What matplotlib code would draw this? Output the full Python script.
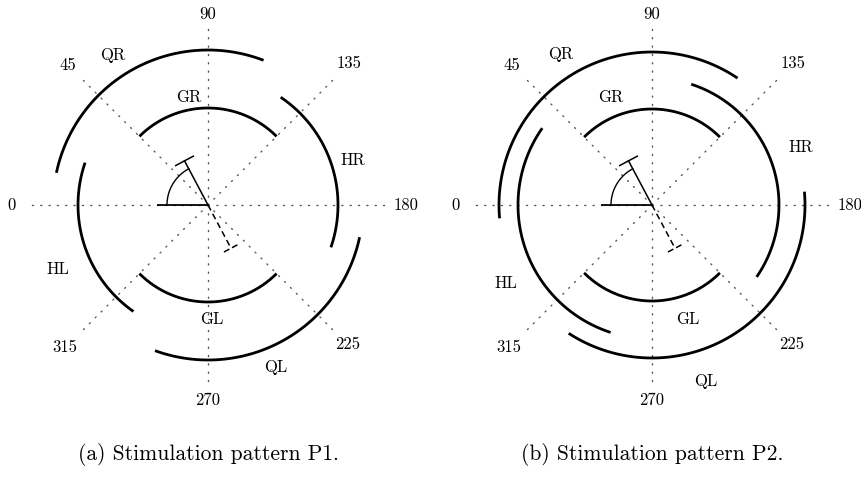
import numpy as np
import matplotlib
matplotlib.use("Agg")
import matplotlib.pyplot as plt

# ---- data ---------------------------------------------------------------
# Arc segments per stimulation pattern: (name, start angle, end angle, radius)
# Angles follow the diagram convention: 0 = left, 90 = up, 180 = right, 270 = down.
arc_names = ["GR", "GL", "HR", "HL", "QR", "QL"]
p1_start = [45, 225, 124, 305, 12, 192]
p1_end = [135, 315, 199, 379, 111, 290]
p1_radius = [97, 97, 130, 130, 155, 155]

p2_start = [45, 225, 108, 288, -5, 175]
p2_end = [135, 315, 214.5, 395, 124, 303]
p2_radius = [96, 96, 127, 134, 153, 153]

# Direction marker: bar angle and its length
marker_angle = 62
marker_length = 50

# Reference directions drawn as dotted spokes
spoke_angles = [0, 45, 90, 135, 180, 225, 270, 315]
spoke_labels = ["0", "45", "90", "135", "180", "225", "270", "315"]

captions = ["(a) Stimulation pattern P1.", "(b) Stimulation pattern P2."]

# ---- layout -------------------------------------------------------------
W, H = 861, 482
centers = [(208, 205), (652, 205)]
spoke_len = 178
spoke_label_r = [196, 198, 191, 200, 198, 197, 195, 202]
name_offsets = [
    {"QR": (-95, -150), "GR": (-19, -108), "HR": (145, -45),
     "HL": (-150, 64), "GL": (4, 114), "QL": (68, 162)},
    {"QR": (-91, -151), "GR": (-41, -108), "HR": (149, -58),
     "HL": (-146, 78), "GL": (36, 114), "QL": (54, 176)},
]
caption_y = 455

FONT = "cmr10"
plt.rcParams["font.family"] = FONT
LABEL_SIZE = 12
CAPTION_SIZE = 15.5


def polar(c, ang, r):
    """Diagram angle (deg) and radius to screen coordinates (y down)."""
    a = np.deg2rad(np.asarray(ang, dtype=float))
    return c[0] - r * np.cos(a), c[1] - r * np.sin(a)


fig = plt.figure(figsize=(W / 100, H / 100), dpi=100)
ax = fig.add_axes([0, 0, 1, 1])
ax.set_xlim(0, W)
ax.set_ylim(H, 0)
ax.set_aspect("equal")
ax.axis("off")

panels = [(p1_start, p1_end, p1_radius), (p2_start, p2_end, p2_radius)]

for k, (c, (starts, ends, radii)) in enumerate(zip(centers, panels)):
    # dotted spokes
    for ang in spoke_angles:
        x, y = polar(c, [ang, ang], np.array([0, spoke_len]))
        ax.plot(x, y, color="#555555", lw=1.0,
                linestyle=(0, (0.8, 5.2)), solid_capstyle="round",
                dash_capstyle="round", zorder=1)
    for ang, lab, r in zip(spoke_angles, spoke_labels, spoke_label_r):
        x, y = polar(c, ang, r)
        ax.text(x, y, lab, ha="center", va="center", fontsize=LABEL_SIZE,
                family=FONT)

    # stimulation arcs
    for name, a0, a1, r in zip(arc_names, starts, ends, radii):
        t = np.linspace(a0, a1, 200)
        x, y = polar(c, t, r)
        ax.plot(x, y, color="black", lw=2.0, solid_capstyle="butt", zorder=3)
        dx, dy = name_offsets[k][name]
        ax.text(c[0] + dx, c[1] + dy, name, ha="center", va="center",
                fontsize=LABEL_SIZE, family=FONT)

    # direction marker: baseline, angle arc, solid bar and dashed opposite bar
    x, y = polar(c, [0, 0], np.array([0, marker_length]))
    ax.plot(x, y, color="black", lw=1.3, zorder=4)
    t = np.linspace(0, marker_angle, 60)
    x, y = polar(c, t, 41)
    ax.plot(x, y, color="black", lw=1.0, zorder=4)

    x, y = polar(c, [marker_angle, marker_angle], np.array([0, marker_length]))
    ax.plot(x, y, color="black", lw=1.1, zorder=4)
    ex, ey = x[1], y[1]
    perp = np.deg2rad(marker_angle + 90)
    hx, hy = 10 * -np.cos(perp), 10 * -np.sin(perp)
    ax.plot([ex - hx, ex + hx], [ey - hy, ey + hy], color="black", lw=1.1,
            zorder=4)

    opp = marker_angle + 180
    x, y = polar(c, [opp, opp], np.array([0, marker_length - 1]))
    ax.plot(x, y, color="black", lw=1.1, linestyle=(0, (4, 2.5)), zorder=4)
    ex, ey = x[1], y[1]
    hx, hy = 8 * -np.cos(perp), 8 * -np.sin(perp)
    ax.plot([ex - hx, ex + hx], [ey - hy, ey + hy], color="black", lw=1.1,
            linestyle=(0, (4, 2)), zorder=4)

    ax.text(c[0], caption_y, captions[k], ha="center", va="center",
            fontsize=CAPTION_SIZE, family=FONT)

fig.savefig("out.png", dpi=100)
